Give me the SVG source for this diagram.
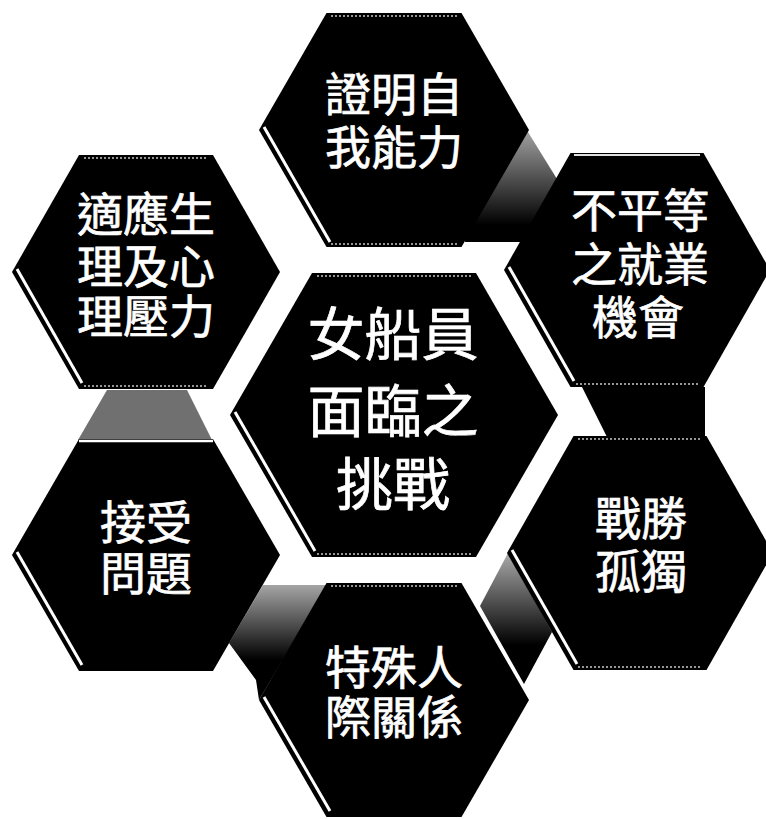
<svg xmlns="http://www.w3.org/2000/svg" width="766" height="819" viewBox="0 0 766 819">
<style>
.hex{fill:#000}
.bevel{stroke:#fff;stroke-width:3;stroke-linecap:butt;fill:none}
.hl{stroke:#c8c8c8;stroke-width:1.5;stroke-dasharray:2 2;fill:none}
.t{fill:#fff;stroke:#fff;stroke-width:0.7;font-family:"Liberation Sans","Noto Sans CJK TC","Noto Sans CJK SC",sans-serif;font-size:46px;text-anchor:middle}
.tc{font-size:57px}
</style>
<defs>
<linearGradient id="g1" gradientUnits="userSpaceOnUse" x1="0" y1="100" x2="0" y2="225">
<stop offset="0" stop-color="#222"/><stop offset="0.28" stop-color="#9a9a9a"/><stop offset="1" stop-color="#000"/>
</linearGradient>
<linearGradient id="gAccept" gradientUnits="userSpaceOnUse" x1="0" y1="439" x2="0" y2="671">
<stop offset="0" stop-color="#7a7a7a"/><stop offset="0.42" stop-color="#151515"/><stop offset="1" stop-color="#000"/>
</linearGradient>
<linearGradient id="g4" gradientUnits="userSpaceOnUse" x1="0" y1="585" x2="0" y2="660">
<stop offset="0" stop-color="#a5a5a5"/><stop offset="1" stop-color="#000"/>
</linearGradient>
<linearGradient id="g5" gradientUnits="userSpaceOnUse" x1="0" y1="553" x2="0" y2="645">
<stop offset="0" stop-color="#aaa"/><stop offset="1" stop-color="#000"/>
</linearGradient>
<linearGradient id="gIneq" gradientUnits="userSpaceOnUse" x1="0" y1="153" x2="0" y2="230">
<stop offset="0" stop-color="#3a3a3a"/><stop offset="1" stop-color="#000"/>
</linearGradient>
</defs>

<g id="shadows">
<polygon points="505,95 557,179 521,242 465,242 470,95" fill="url(#g1)"/>
<polygon points="107,390 187,390 212,440 78,440" fill="#707070"/>
<polygon points="582,387 705,387 705,437 607,437" fill="#000"/>
<polygon points="263,585 327,585 259,700 256,680 229,643" fill="url(#g4)"/>
<polygon points="508,553 480,606 524,684 552,632" fill="url(#g5)"/>
</g>

<g id="connectors"></g>

<g id="node-top">
<polygon class="hex" points="259,130 326.5,13 461.5,13 529,130 461.5,247 326.5,247"/>
<line class="hl" x1="331" y1="16" x2="457" y2="16"/>
<line class="hl" x1="331" y1="244" x2="457" y2="244"/>
<line class="bevel" x1="264" y1="127" x2="330" y2="242"/>
<text class="t"><tspan x="394" y="111">證明自</tspan><tspan x="394" y="164">我能力</tspan></text>
</g>

<g id="node-left-upper">
<polygon class="hex" points="12,272 79,155 213,155 280,272 213,389 79,389"/>
<line class="hl" x1="84" y1="158" x2="208" y2="158"/>
<line class="hl" x1="84" y1="386" x2="208" y2="386"/>
<line class="bevel" x1="17" y1="269" x2="82" y2="383"/>
<text class="t"><tspan x="146" y="231">適應生</tspan><tspan x="146" y="283">理及心</tspan><tspan x="146" y="333">理壓力</tspan></text>
</g>

<g id="node-right-upper">
<polygon class="hex" points="504,270 570.5,153 703.5,153 770,270 703.5,387 570.5,387" fill="url(#gIneq)"/>
<line x1="574" y1="155" x2="700" y2="155" stroke="#e0e0e0" stroke-width="2"/>
<line class="hl" x1="576" y1="384" x2="698" y2="384"/>
<line class="bevel" x1="509" y1="267" x2="574" y2="381"/>
<text class="t"><tspan x="640" y="227">不平等</tspan><tspan x="640" y="281">之就業</tspan><tspan x="638" y="334">機會</tspan></text>
</g>

<g id="node-center">
<polygon class="hex" points="230,415 312,273 476,273 558,415 476,557 312,557"/>
<line class="hl" x1="317" y1="276" x2="471" y2="276"/>
<line class="hl" x1="317" y1="554" x2="471" y2="554"/>
<line class="bevel" x1="235" y1="412" x2="315" y2="551"/>
<text class="t tc"><tspan x="393" y="355">女船員</tspan><tspan x="393" y="432">面臨之</tspan><tspan x="393" y="505">挑戰</tspan></text>
</g>

<g id="node-left-lower">
<polygon class="hex" points="12,555 79,439 213,439 280,555 213,671 79,671" fill="url(#gAccept)"/>
<line x1="79" y1="441" x2="213" y2="441" stroke="#fff" stroke-width="2.5"/>
<line class="bevel" x1="17" y1="552" x2="82" y2="665"/>
<text class="t"><tspan x="146" y="539">接受</tspan><tspan x="146" y="590">問題</tspan></text>
</g>

<g id="node-right-lower">
<polygon class="hex" points="507,553 573.5,436 706.5,436 773,553 706.5,670 573.5,670"/>
<line class="hl" x1="578" y1="439" x2="702" y2="439"/>
<line class="hl" x1="578" y1="667" x2="702" y2="667"/>
<line class="bevel" x1="512" y1="550" x2="577" y2="664"/>
<text class="t"><tspan x="641" y="535">戰勝</tspan><tspan x="641" y="588">孤獨</tspan></text>
</g>

<g id="node-bottom">
<polygon class="hex" points="259,700 326.5,583 461.5,583 529,700 461.5,817 326.5,817"/>
<line class="hl" x1="331" y1="586" x2="457" y2="586"/>
<line class="bevel" x1="264" y1="697" x2="330" y2="811"/>
<text class="t"><tspan x="394" y="684">特殊人</tspan><tspan x="394" y="734">際關係</tspan></text>
</g>
</svg>
